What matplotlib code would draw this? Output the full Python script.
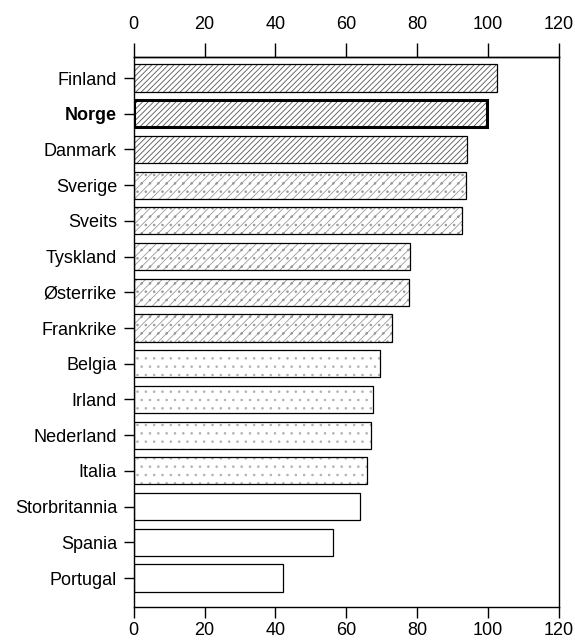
import matplotlib.pyplot as plt

plt.rcParams['font.family'] = ['Liberation Sans', 'DejaVu Sans']
plt.rcParams['hatch.linewidth'] = 0.6

countries = ['Finland', 'Norge', 'Danmark', 'Sverige', 'Sveits', 'Tyskland',
             'Østerrike', 'Frankrike', 'Belgia', 'Irland', 'Nederland',
             'Italia', 'Storbritannia', 'Spania', 'Portugal']
values = [102.5, 99.8, 94.1, 93.7, 92.5, 77.9, 77.8, 72.8, 69.5, 67.4,
          66.9, 65.7, 63.9, 56.2, 42.1]
# shading groups: 3 = dense hatch, 2 = hatch+dots, 1 = dots, 0 = blank
shade = [3, 3, 3, 2, 2, 2, 2, 2, 1, 1, 1, 1, 0, 0, 0]
x_ticks = [0, 20, 40, 60, 80, 100, 120]

hatches = {3: '//////', 2: '////..', 1: '..', 0: ''}
hatch_cols = {3: '#555555', 2: '#999999', 1: '#b0b0b0', 0: 'white'}

fig = plt.figure(figsize=(5.75, 6.44), dpi=100)
ax = fig.add_axes([0.2325, 0.0575, 0.7397, 0.854])

ypos = list(range(len(countries)))
for y, v, s, name in zip(ypos, values, shade, countries):
    ax.barh(y, v, height=0.76, color='white', edgecolor=hatch_cols[s],
            hatch=hatches[s], linewidth=0)
    lw = 2.2 if name == 'Norge' else 0.9
    ax.barh(y, v, height=0.76, fill=False, edgecolor='black', linewidth=lw)

ax.set_xlim(0, 120)
ax.set_ylim(14.81, -0.59)
ax.set_xticks(x_ticks)
ax.set_yticks(ypos)
ax.set_yticklabels(countries)
for lab in ax.get_yticklabels():
    if lab.get_text() == 'Norge':
        lab.set_fontweight('bold')

ax.tick_params(axis='x', direction='out', length=8, width=1,
               labelsize=13, pad=3)
ax.tick_params(axis='y', direction='out', length=7, width=1,
               labelsize=13, pad=5)

top = ax.secondary_xaxis('top')
top.set_xticks(x_ticks)
top.tick_params(direction='out', length=10, width=1, labelsize=13, pad=7)
top.spines['top'].set_linewidth(1)

for sp in ax.spines.values():
    sp.set_linewidth(1)

fig.savefig('out.png', dpi=100)
